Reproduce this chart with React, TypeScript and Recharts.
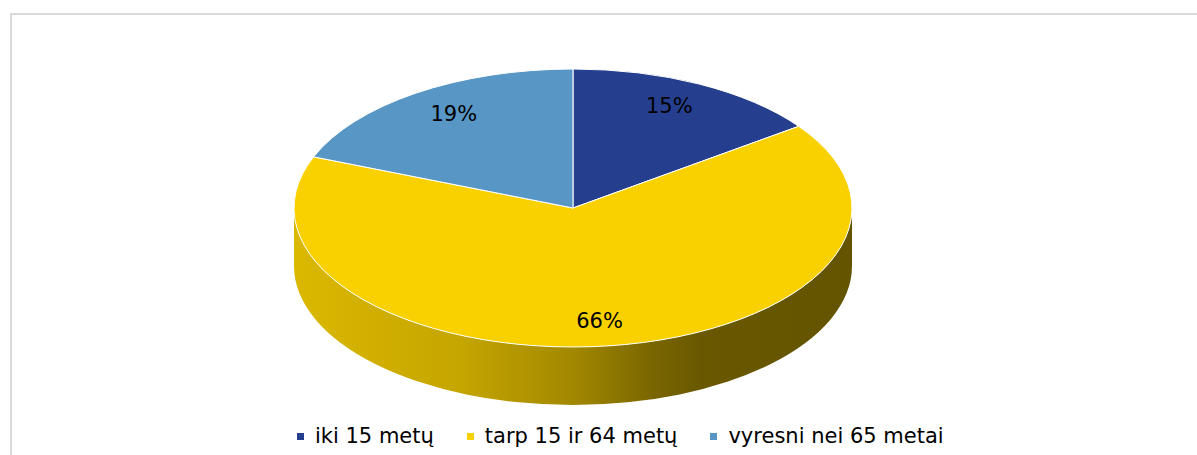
import React from 'react';
import { PieChart, Pie, Legend } from 'recharts';

// age groups and their share of population (%)
const categories = ['iki 15 metų', 'tarp 15 ir 64 metų', 'vyresni nei 65 metai'];
const shares = [15, 66, 19];
const colors = ['#253F8E', '#F9D100', '#5896C6'];

const data = categories.map((name, i) => ({ name, value: shares[i], fill: colors[i] }));

const RAD = Math.PI / 180;
const TILT = 139 / 279;
const DEPTH = 58;
const FONT = "'DejaVu Sans', Verdana, sans-serif";

const shade = (hex: string, k: number) => {
  const n = parseInt(hex.slice(1), 16);
  const r = Math.round(((n >> 16) & 255) * k);
  const g = Math.round(((n >> 8) & 255) * k);
  const b = Math.round((n & 255) * k);
  return `rgb(${r},${g},${b})`;
};

// draws a tilted (elliptical) slice with its front wall
const Slice3D = (props: any) => {
  const { cx, cy, outerRadius, startAngle, endAngle, fill, index } = props;
  const rx = outerRadius;
  const ry = outerRadius * TILT;
  const pt = (a: number, dy = 0) =>
    `${cx + rx * Math.cos(a * RAD)},${cy - ry * Math.sin(a * RAD) + dy}`;
  const hiA = Math.max(startAngle, endAngle);
  const loA = Math.min(startAngle, endAngle);
  const large = hiA - loA > 180 ? 1 : 0;
  const top = `M${cx},${cy} L${pt(hiA)} A${rx},${ry} 0 ${large} 1 ${pt(loA)} Z`;

  const walls: string[] = [];
  for (let k = -1; k <= 1; k++) {
    const h = Math.min(hiA, k * 360);
    const l = Math.max(loA, k * 360 - 180);
    if (h - l > 0.01) {
      walls.push(
        `M${pt(h)} A${rx},${ry} 0 0 1 ${pt(l)} L${pt(l, DEPTH)} A${rx},${ry} 0 0 0 ${pt(h, DEPTH)} Z`
      );
    }
  }
  const gid = `wall-${index}`;
  return (
    <g>
      <defs>
        <linearGradient id={gid} gradientUnits="userSpaceOnUse" x1={cx - rx} y1={0} x2={cx + rx} y2={0}>
          <stop offset="0" stopColor={shade(fill, 0.88)} />
          <stop offset="0.3" stopColor={shade(fill, 0.79)} />
          <stop offset="0.5" stopColor={shade(fill, 0.65)} />
          <stop offset="0.65" stopColor={shade(fill, 0.48)} />
          <stop offset="0.73" stopColor={shade(fill, 0.42)} />
          <stop offset="1" stopColor={shade(fill, 0.4)} />
        </linearGradient>
      </defs>
      {walls.map((d, i) => (
        <path key={i} d={d} fill={`url(#${gid})`} />
      ))}
      <path d={top} fill={fill} stroke="#fff" strokeWidth={1} />
    </g>
  );
};

const renderLabel = (props: any) => {
  const { cx, cy, midAngle, outerRadius, percent } = props;
  const x = cx + outerRadius * 0.76 * Math.cos(midAngle * RAD);
  const y = cy - outerRadius * TILT * 0.82 * Math.sin(midAngle * RAD);
  return (
    <text x={x} y={y} textAnchor="middle" dominantBaseline="central" fill="#000" fontSize={21} fontFamily={FONT}>
      {`${Math.round(percent * 100)}%`}
    </text>
  );
};

const renderLegend = () => (
  <div style={{ display: 'flex', fontFamily: FONT, fontSize: 21, color: '#000', whiteSpace: 'nowrap' }}>
    {categories.map((c, i) => (
      <span key={c} style={{ display: 'flex', alignItems: 'center', marginRight: 33 }}>
        <span style={{ width: 7, height: 7, background: colors[i], marginRight: 11, display: 'inline-block' }} />
        {c}
      </span>
    ))}
  </div>
);

export default function App() {
  return (
    <div style={{ position: 'absolute', left: 0, top: 0, width: 1197, height: 455, background: '#fff' }}>
      <div
        style={{
          position: 'absolute',
          left: 10,
          top: 13,
          width: 1187,
          height: 442,
          borderTop: '2px solid #D9D9D9',
          borderLeft: '2px solid #D9D9D9',
          boxSizing: 'border-box',
        }}
      />
      <div style={{ position: 'absolute', left: 0, top: 0 }}>
        <PieChart width={1197} height={455} margin={{ top: 0, right: 0, bottom: 0, left: 0 }}>
          <Pie
            data={data}
            dataKey="value"
            nameKey="name"
            cx={573}
            cy={208}
            outerRadius={279}
            startAngle={90}
            endAngle={-270}
            stroke="#fff"
            shape={Slice3D}
            activeShape={Slice3D}
            label={renderLabel}
            labelLine={false}
            isAnimationActive={false}
          />
          <Legend
            content={renderLegend}
            wrapperStyle={{ position: 'absolute', left: 297, top: 424, width: 'auto' }}
          />
        </PieChart>
      </div>
    </div>
  );
}
